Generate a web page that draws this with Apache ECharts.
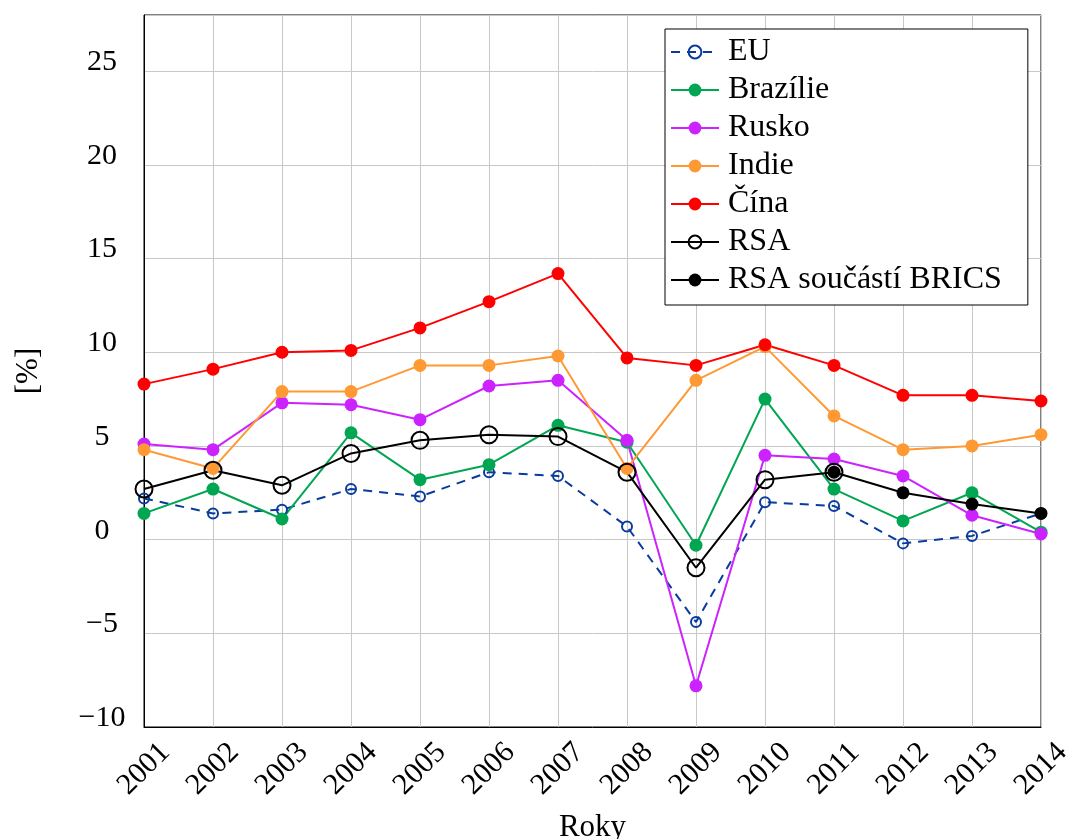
<!DOCTYPE html>
<html>
<head>
<meta charset="utf-8">
<script src="https://cdn.jsdelivr.net/npm/echarts@6/dist/echarts.min.js"></script>
<style>
  html, body { margin: 0; padding: 0; background: #fff; }
  #chart { width: 1069px; height: 839px; }
</style>
</head>
<body>
<div id="chart"></div>
<script>
// roky a tempa růstu HDP [%]
var years = ['2001', '2002', '2003', '2004', '2005', '2006', '2007', '2008', '2009', '2010', '2011', '2012', '2013', '2014'];
var eu      = [2.2, 1.4, 1.6, 2.7, 2.3, 3.6, 3.4, 0.7, -4.4, 2.0, 1.8, -0.2, 0.2, 1.4];
var brazil  = [1.4, 2.7, 1.1, 5.7, 3.2, 4.0, 6.1, 5.2, -0.3, 7.5, 2.7, 1.0, 2.5, 0.4];
var russia  = [5.1, 4.8, 7.3, 7.2, 6.4, 8.2, 8.5, 5.3, -7.8, 4.5, 4.3, 3.4, 1.3, 0.3];
var india   = [4.8, 3.8, 7.9, 7.9, 9.3, 9.3, 9.8, 3.8, 8.5, 10.3, 6.6, 4.8, 5.0, 5.6];
var china   = [8.3, 9.1, 10.0, 10.1, 11.3, 12.7, 14.2, 9.7, 9.3, 10.4, 9.3, 7.7, 7.7, 7.4];
var rsa     = [2.7, 3.7, 2.9, 4.6, 5.3, 5.6, 5.5, 3.6, -1.5, 3.2, 3.6, null, null, null];
var rsaBrics = [null, null, null, null, null, null, null, null, null, null, 3.6, 2.5, 1.9, 1.4];

var font = 'Liberation Serif';

function filled(name, data, color) {
  return {
    name: name,
    type: 'line',
    data: data,
    symbol: 'circle',
    symbolSize: 13,
    itemStyle: { color: color },
    lineStyle: { color: color, width: 2 }
  };
}

var chart = echarts.init(document.getElementById('chart'));
chart.setOption({
  animation: false,
  backgroundColor: '#fff',
  textStyle: { fontFamily: font },
  grid: {
    left: 144, right: 28, top: 15, bottom: 112,
    outerBoundsMode: 'none',
    containLabel: false,
    show: true, borderColor: '#000', borderWidth: 1, backgroundColor: 'transparent'
  },
  legend: {
    orient: 'vertical',
    left: 665, top: 29,
    padding: [7, 26, 9, 5],
    itemGap: 6,
    itemWidth: 48,
    itemHeight: 16,
    backgroundColor: '#fff',
    borderColor: '#000',
    borderWidth: 1,
    textStyle: { fontFamily: font, fontSize: 32, color: '#000', lineHeight: 30, padding: [0, 0, 0, 4] },
    data: ['EU', 'Brazílie', 'Rusko', 'Indie', 'Čína', 'RSA', 'RSA součástí BRICS']
  },
  xAxis: {
    type: 'category',
    data: years,
    boundaryGap: false,
    name: 'Roky',
    nameLocation: 'middle',
    nameGap: 85,
    nameTextStyle: { fontFamily: font, fontSize: 31, color: '#000', verticalAlign: 'top' },
    axisLine: { onZero: false, lineStyle: { color: '#000', width: 1 } },
    axisTick: { show: false },
    axisLabel: {
      rotate: 45, align: 'center', verticalAlign: 'middle', margin: 42,
      fontFamily: font, fontSize: 30, color: '#000'
    },
    splitLine: { show: true, lineStyle: { color: '#c8c8c8', width: 1 } }
  },
  yAxis: {
    type: 'value',
    min: -10, max: 28, interval: 5,
    name: '[%]',
    nameLocation: 'middle',
    nameGap: 100,
    nameTextStyle: { fontFamily: font, fontSize: 31, color: '#000' },
    axisLine: { show: true, lineStyle: { color: '#000', width: 1 } },
    axisTick: { show: false },
    axisLabel: {
      margin: 42,
      align: 'center',
      fontFamily: font, fontSize: 30, color: '#000',
      verticalAlign: 'bottom',
      lineHeight: 18,
      showMaxLabel: false,
      formatter: function (v) {
        return v % 5 === 0 ? String(v).replace('-', '\u2212') : '';
      }
    },
    splitLine: { show: true, lineStyle: { color: '#c8c8c8', width: 1 } }
  },
  series: [
    {
      name: 'EU',
      type: 'line',
      data: eu,
      symbol: 'circle',
      symbolSize: 10,
      itemStyle: { color: 'rgba(255,255,255,0)', borderColor: '#0a3c9e', borderWidth: 2 },
      lineStyle: { color: '#0a3c9e', width: 2, type: [9, 7] }
    },
    filled('Brazílie', brazil, '#00a651'),
    filled('Rusko', russia, '#cc22ff'),
    filled('Indie', india, '#ff9933'),
    filled('Čína', china, '#ff0000'),
    {
      name: 'RSA',
      type: 'line',
      data: rsa,
      symbol: 'circle',
      symbolSize: 17,
      itemStyle: { color: 'rgba(255,255,255,0)', borderColor: '#000', borderWidth: 2 },
      lineStyle: { color: '#000', width: 2 }
    },
    filled('RSA součástí BRICS', rsaBrics, '#000')
  ]
});
</script>
</body>
</html>
